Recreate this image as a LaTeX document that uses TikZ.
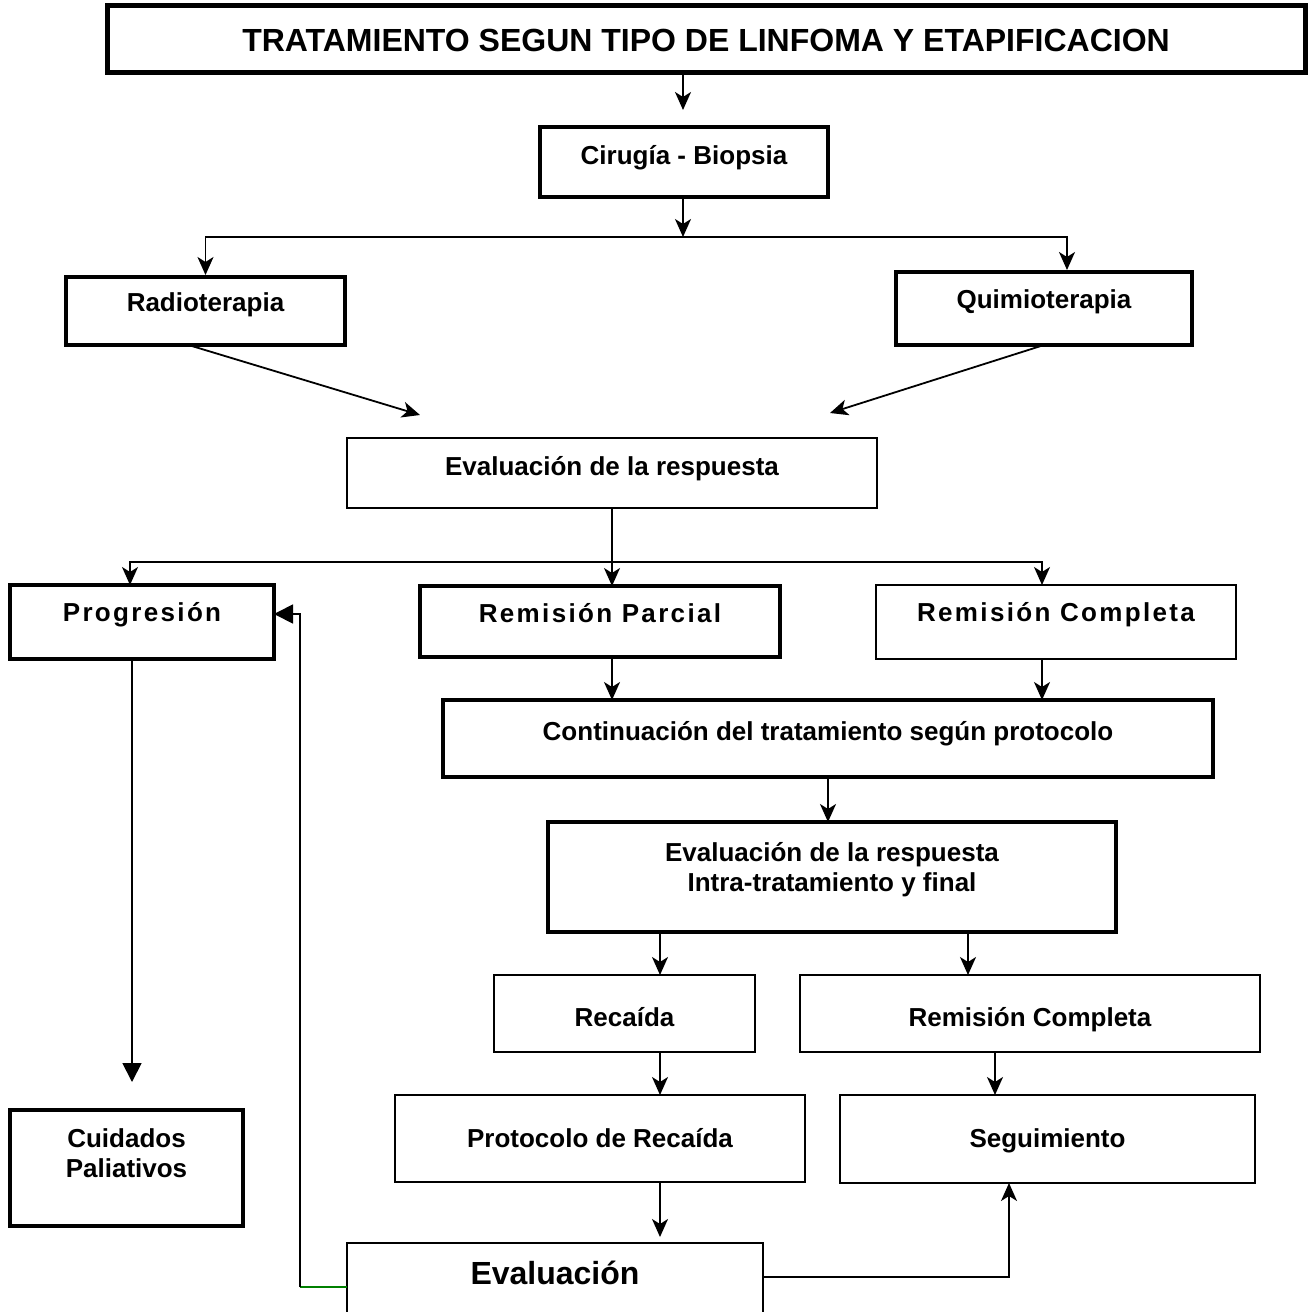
\documentclass[tikz,border=0pt]{standalone}
\usepackage{fontspec}
\setmainfont{Liberation Sans}
\newfontfamily\spacedfont[LetterSpace=9]{Liberation Sans}
\usetikzlibrary{arrows.meta,positioning}

\begin{document}
\begin{tikzpicture}[x=1pt,y=-1pt,
  box/.style={draw, rectangle, anchor=north west, outer sep=0pt, inner sep=0pt,
    align=center, line width=1.5pt, font=\bfseries\fontsize{26}{30}\selectfont},
  wide/.style={font=\spacedfont\bfseries\fontsize{26}{30}\selectfont},
  arr/.style={-{Stealth[length=18pt,width=16pt,inset=5pt]}, line width=1.8pt},
  tri/.style={-{Triangle[length=19pt,width=19pt]}, line width=1.8pt}]
\useasboundingbox (0,0) rectangle (1309,1312);
\clip (0,0) rectangle (1309,1312);

\node[box, line width=5pt, minimum width=1198pt, text height=46pt, text depth=21pt,
  font=\bfseries\fontsize{32}{36}\selectfont] (tit) at (107,5) {TRATAMIENTO SEGUN TIPO DE LINFOMA Y ETAPIFICACION};
\node[box, line width=4pt, minimum width=288pt, text height=37pt, text depth=33pt] (cir) at (540,127) {Cirugía - Biopsia};
\node[box, line width=4pt, minimum width=279pt, text height=34pt, text depth=34pt] (rad) at (66,277) {Radioterapia};
\node[box, line width=4pt, minimum width=296pt, text height=36pt, text depth=37pt] (qui) at (896,272) {Quimioterapia};
\node[box, minimum width=530pt, text height=37pt, text depth=33pt] (ev_1) at (347,438) {Evaluación de la respuesta};
\node[box, wide, line width=4.5pt, minimum width=264pt, text height=36pt, text depth=38pt] (prog) at (10,585) {Progresión};
\node[box, wide, line width=3.5pt, minimum width=360pt, text height=36pt, text depth=35pt] (rp) at (420,586) {Remisión Parcial};
\node[box, wide, line width=1.8pt, minimum width=360pt, text height=36pt, text depth=38pt] (rc) at (876,585) {Remisión Completa};
\node[box, line width=4.5pt, minimum width=770pt, text height=40pt, text depth=37pt] (cont) at (443,700) {Continuación del tratamiento según protocolo};
\node[box, line width=4pt, minimum width=568pt, text height=69pt, text depth=41pt] (ev_2) at (548,822) {Evaluación de la respuesta\\Intra-tratamiento y final};
\node[box, minimum width=261pt, text height=51pt, text depth=26pt] (rec) at (494,975) {Recaída};
\node[box, minimum width=460pt, text height=51pt, text depth=26pt] (rc_2) at (800,975) {Remisión Completa};
\node[box, minimum width=410pt, text height=52pt, text depth=35pt] (prot) at (395,1095) {Protocolo de Recaída};
\node[box, minimum width=415pt, text height=52pt, text depth=36pt] (seg) at (840,1095) {Seguimiento};
\node[box, line width=4.5pt, minimum width=233pt, text height=67pt, text depth=49pt] (cuid) at (10,1110) {Cuidados\\Paliativos};
\node[box, line width=1.8pt, minimum width=416pt, text height=41pt, text depth=60pt,
  font=\bfseries\fontsize{32}{36}\selectfont] (ev_3) at (347,1243) {Evaluación};

\coordinate (s_1) at (683,237);
\coordinate (s_2) at (612,562);
\coordinate (r_1) at (300,1287);

\draw[arr, shorten >=17pt] (tit.south -| s_1) -- (cir.north -| s_1);
\draw[arr] (cir.south -| s_1) -- (s_1);
\draw[arr, shorten >=2pt] (s_1) -| (rad.north);
\draw[arr, shorten >=2pt] (s_1) -| ([xshift=23pt]qui.north);
\draw[arr] ([xshift=-17pt]rad.south) -- ([xshift=73pt,yshift=23pt]ev_1.north west);
\draw[arr] (qui.south) -- ([xshift=-47pt,yshift=25pt]ev_1.north east);

\draw[line width=1.8pt] (ev_1.south) -- (s_2);
\draw[arr] (s_2) -- (s_2 |- rp.north);
\draw[arr] (s_2) -| ([xshift=-12pt]prog.north);
\draw[arr] (s_2) -| ([xshift=-14pt]rc.north);
\draw[arr] (rp.south -| s_2) -- (cont.north -| s_2);
\draw[arr] ([xshift=-14pt]rc.south) -- ([xshift=-14pt]rc.south |- cont.north);
\draw[arr] (cont.south) -- (cont.south |- ev_2.north);

\draw[arr] ([xshift=-172pt]ev_2.south) -- ([xshift=35.5pt]rec.north);
\draw[arr] ([xshift=136pt]ev_2.south) -- ([xshift=-62pt]rc_2.north);
\draw[arr] ([xshift=35.5pt]rec.south) -- ([xshift=60pt]prot.north);
\draw[arr] ([xshift=-35pt]rc_2.south) -- ([xshift=-52.5pt]seg.north);
\draw[arr, shorten >=6pt] ([xshift=60pt]prot.south) -- ([xshift=105pt]ev_3.north);
\draw[arr] ([yshift=16.5pt]ev_3.east) -| ([xshift=-38.5pt]seg.south);

\draw[green!50!black, line width=1.8pt] ([yshift=6.5pt]ev_3.west) -- (r_1);
\draw[tri] (r_1) |- ([yshift=8pt]prog.east);
\draw[tri, shorten >=28pt] ([xshift=-10pt]prog.south) -- ([xshift=5.5pt]cuid.north);
\end{tikzpicture}
\end{document}
